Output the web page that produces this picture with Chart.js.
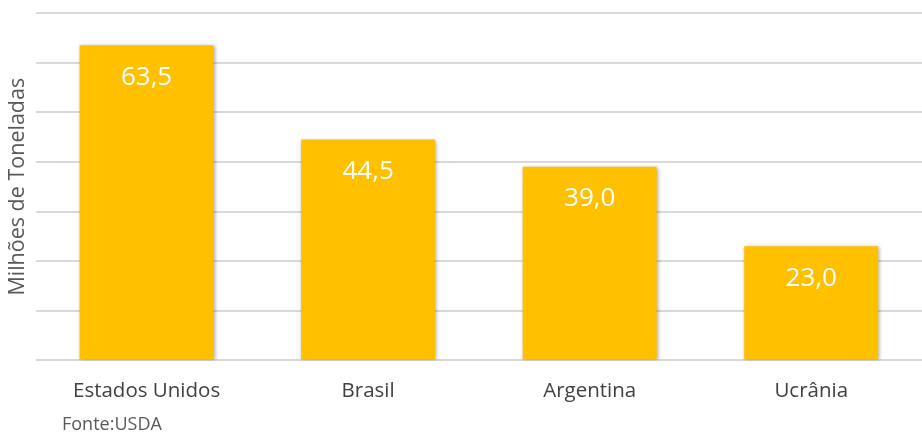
<!DOCTYPE html>
<html>
<head>
<meta charset="utf-8">
<script src="https://cdn.jsdelivr.net/npm/chart.js@4/dist/chart.umd.min.js"></script>
<style>
html,body{margin:0;padding:0;background:#fff;}
#wrap{position:relative;width:922px;height:434px;}
</style>
</head>
<body>
<div id="wrap"><canvas id="c" width="922" height="434"></canvas></div>
<script>
const categories = ["Estados Unidos", "Brasil", "Argentina", "Ucrânia"];
const values = [63.5, 44.5, 39.0, 23.0];
const valueLabels = ["63,5", "44,5", "39,0", "23,0"];
const yTitle = "Milhões de Toneladas";
const sourceNote = "Fonte:USDA";

const FONT = "'Open Sans', sans-serif";

const shadowPlugin = {
  id: 'shadow',
  beforeDatasetDraw(chart) {
    const ctx = chart.ctx;
    ctx.save();
    ctx.shadowColor = 'rgba(0,0,0,0.35)';
    ctx.shadowBlur = 4;
    ctx.shadowOffsetX = 1;
    ctx.shadowOffsetY = 1;
  },
  afterDatasetDraw(chart) {
    chart.ctx.restore();
  }
};

const labelPlugin = {
  id: 'labels',
  afterDatasetsDraw(chart) {
    const ctx = chart.ctx;
    const meta = chart.getDatasetMeta(0);
    ctx.save();
    ctx.fillStyle = '#ffffff';
    ctx.font = "26px " + FONT;
    ctx.textAlign = 'center';
    ctx.textBaseline = 'middle';
    meta.data.forEach((bar, i) => {
      ctx.fillText(valueLabels[i], bar.x, bar.y + 32);
    });
    ctx.fillStyle = '#595959';
    ctx.font = "18px " + FONT;
    ctx.textAlign = 'left';
    ctx.textBaseline = 'middle';
    ctx.fillText(sourceNote, 62, 425);
    ctx.restore();
  }
};

new Chart(document.getElementById('c'), {
  type: 'bar',
  data: {
    labels: categories,
    datasets: [{
      data: values,
      backgroundColor: '#FFC000',
      borderWidth: 0,
      categoryPercentage: 0.605,
      barPercentage: 1.0
    }]
  },
  options: {
    responsive: false,
    animation: false,
    devicePixelRatio: 1,
    layout: { padding: { left: 2, right: 0, top: 13, bottom: 13 } },
    plugins: { legend: { display: false }, tooltip: { enabled: false } },
    scales: {
      x: {
        grid: { display: false, drawTicks: false },
        border: { display: false },
        ticks: { color: '#404040', font: { family: FONT, size: 20.5 }, padding: 18, maxRotation: 0 }
      },
      y: {
        min: 0, max: 70,
        ticks: { display: false, stepSize: 10 },
        grid: { color: '#d9d9d9', lineWidth: 2, drawTicks: false },
        border: { display: false },
        title: { display: true, text: yTitle, color: '#595959', font: { family: FONT, size: 21.5 }, padding: { top: 3, bottom: 5 } }
      }
    }
  },
  plugins: [shadowPlugin, labelPlugin]
});
</script>
</body>
</html>
